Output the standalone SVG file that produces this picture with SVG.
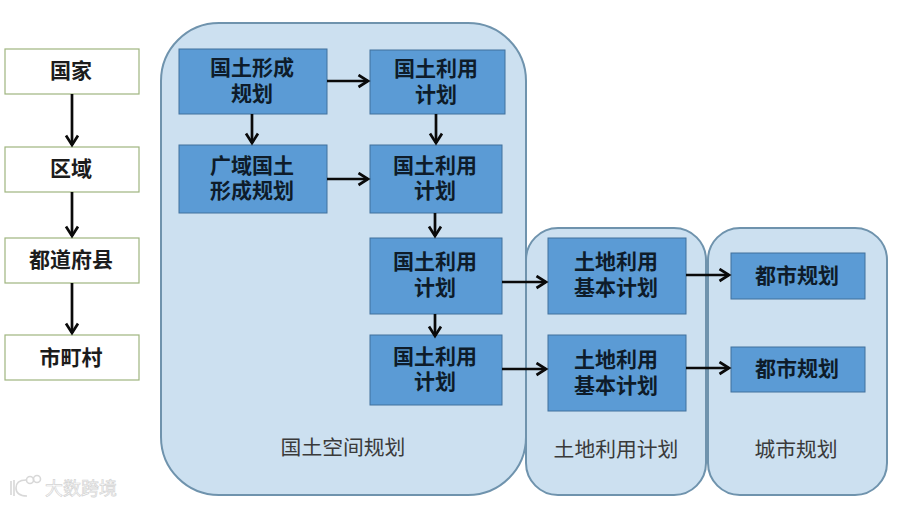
<svg xmlns="http://www.w3.org/2000/svg" width="900" height="505" viewBox="0 0 900 505">
<style>
text{font-family:"Noto Sans CJK SC","Noto Sans",sans-serif;text-anchor:middle}
.t{font-size:21px;font-weight:700;fill:#0e1c2a}
.k{font-size:21px;font-weight:700;fill:#1c1c1c}
.c{font-size:20.800px;fill:#3a3a3a}
.g{fill:#cce0f0;stroke:#6f93ad;stroke-width:2}
.b{fill:#5b9bd5;stroke:#41719c;stroke-width:1}
.w{fill:#fff;stroke:#9fb57f;stroke-width:1.200}
.a{fill:none;stroke:#0a0a0a;stroke-width:2.700;marker-end:url(#ah)}
.m{fill:none;stroke:#d8d8d8;stroke-width:1.600}
</style>
<defs>
<marker id="ah" markerUnits="userSpaceOnUse" markerWidth="14" markerHeight="16" refX="11" refY="7" orient="auto"><path d="M1.500 1L11 7L1.500 13" fill="none" stroke="#0a0a0a" stroke-width="2.700"/></marker>
</defs>
<rect width="900" height="505" fill="#fff"/>
<g id="group-national"><rect class="g" x="161" y="23" width="365" height="472" rx="58"/><text class="c" x="343" y="455">国土空间规划</text></g>
<g id="group-land"><rect class="g" x="526" y="228" width="180" height="267" rx="32"/><text class="c" x="616" y="457">土地利用计划</text></g>
<g id="group-city"><rect class="g" x="708" y="228" width="179" height="267" rx="32"/><text class="c" x="796" y="457">城市规划</text></g>
<g id="level-country"><rect class="w" x="5" y="49" width="134" height="45"/><text class="k" x="71" y="78">国家</text></g>
<g id="level-region"><rect class="w" x="5" y="147" width="134" height="45"/><text class="k" x="71" y="176">区域</text></g>
<g id="level-pref"><rect class="w" x="5" y="238" width="134" height="45"/><text class="k" x="71" y="267">都道府县</text></g>
<g id="level-muni"><rect class="w" x="5" y="335" width="134" height="45"/><text class="k" x="71" y="365">市町村</text></g>
<g id="n1"><rect class="b" x="179" y="49" width="148" height="65"/><text class="t" x="252" y="75">国土形成<tspan x="252" dy="26">规划</tspan></text></g>
<g id="n2"><rect class="b" x="370" y="50" width="135" height="64"/><text class="t" x="436" y="76">国土利用<tspan x="436" dy="26">计划</tspan></text></g>
<g id="n3"><rect class="b" x="179" y="145" width="148" height="68"/><text class="t" x="252" y="173">广域国土<tspan x="252" dy="25">形成规划</tspan></text></g>
<g id="n4"><rect class="b" x="370" y="145" width="132" height="68"/><text class="t" x="435" y="173">国土利用<tspan x="435" dy="25">计划</tspan></text></g>
<g id="n5"><rect class="b" x="370" y="238" width="132" height="76"/><text class="t" x="435" y="269">国土利用<tspan x="435" dy="26">计划</tspan></text></g>
<g id="n6"><rect class="b" x="370" y="335" width="132" height="70"/><text class="t" x="435" y="364">国土利用<tspan x="435" dy="25">计划</tspan></text></g>
<g id="n7"><rect class="b" x="548" y="238" width="138" height="76"/><text class="t" x="616" y="269">土地利用<tspan x="616" dy="26">基本计划</tspan></text></g>
<g id="n8"><rect class="b" x="548" y="335" width="138" height="76"/><text class="t" x="616" y="367">土地利用<tspan x="616" dy="26">基本计划</tspan></text></g>
<g id="n9"><rect class="b" x="731" y="253" width="134" height="46"/><text class="t" x="797" y="283">都市规划</text></g>
<g id="n10"><rect class="b" x="731" y="347" width="134" height="45"/><text class="t" x="797" y="376">都市规划</text></g>
<g id="connectors">
<path class="a" d="M72 94V145"/><path class="a" d="M72 192V236"/><path class="a" d="M72 283V333"/>
<path class="a" d="M327 81H368"/><path class="a" d="M252 114V143"/><path class="a" d="M436 114V143"/>
<path class="a" d="M327 179H368"/><path class="a" d="M435 213V236"/><path class="a" d="M435 314V336"/>
<path class="a" d="M502 282H546"/><path class="a" d="M502 369H546"/>
<path class="a" d="M686 275H729"/><path class="a" d="M686 368H729"/>
</g>
<g id="watermark">
<path class="m" d="M11 481V495M14 480V496M26 480C18 480 16 484 16 488C16 493 20 496 27 496"/>
<circle class="m" cx="30" cy="480" r="3.500"/><circle class="m" cx="37" cy="479" r="3.500"/>
<text x="81" y="495" style="font-size:18px;fill:#fff;stroke:#d4d4d4;stroke-width:.7">大数跨境</text>
</g>
</svg>
